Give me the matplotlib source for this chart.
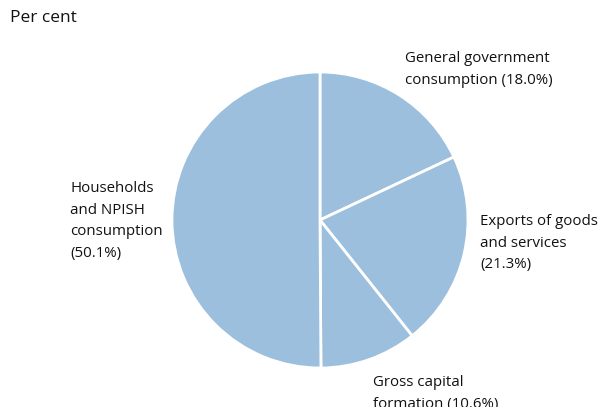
import matplotlib
matplotlib.use("Agg")
import matplotlib.pyplot as plt

categories = ["General government\nconsumption", "Exports of goods\nand services",
              "Gross capital\nformation", "Households\nand NPISH\nconsumption"]
values = [18.0, 21.3, 10.6, 50.1]
separators = [" ", "\n", " ", "\n"]

plt.rcParams['font.family'] = ['Open Sans', 'DejaVu Sans']

W, H = 601, 407
fig = plt.figure(figsize=(W/100, H/100), dpi=100)
cx, cy, r = 320, 220, 148
ax = fig.add_axes([(cx - r)/W, (H - cy - r)/H, 2*r/W, 2*r/H])
ax.pie(values, startangle=90, counterclock=False, colors=["#9bbfdd"]*4,
       wedgeprops=dict(edgecolor="white", linewidth=2))
ax.set_xlim(-1, 1); ax.set_ylim(-1, 1)
ax.set_aspect('auto')
ax.axis('off')

def lab(x, y, s):
    fig.text(x/W, 1 - y/H, s, ha='left', va='top', fontsize=10.8, linespacing=1.6, color='#111111')

fig.text(10/W, 1 - 10/H, "Per cent", ha='left', va='top', fontsize=12.5, color='#111111')
pos = [(405, 51), (480, 214), (373, 375), (70, 181)]
for (x, y), c, sep, v in zip(pos, categories, separators, values):
    lab(x, y, f"{c}{sep}({v:.1f}%)")

fig.savefig("out.png", dpi=100)
